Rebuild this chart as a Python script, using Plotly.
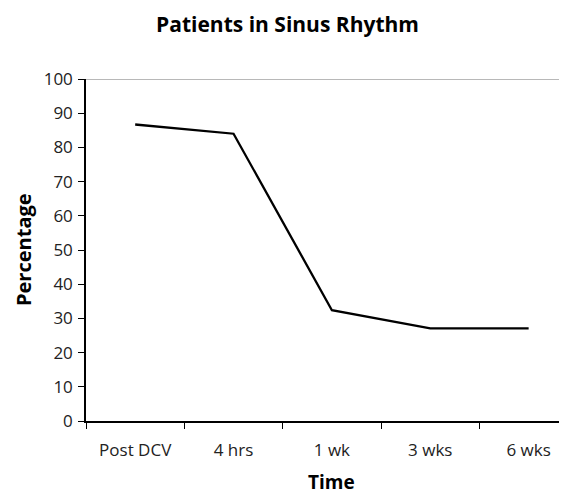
import plotly.graph_objects as go

categories = ["Post DCV", "4 hrs", "1 wk", "3 wks", "6 wks"]
percentages = [86.7, 84.0, 32.4, 27.1, 27.1]
y_ticks = [0, 10, 20, 30, 40, 50, 60, 70, 80, 90, 100]

FONT = "Open Sans, Noto Sans, sans-serif"
W, H = 559, 486  # page body adds an 8px margin

fig = go.Figure()
fig.add_trace(go.Scatter(
    x=categories, y=percentages, mode="lines",
    line=dict(color="black", width=2.3), showlegend=False, hoverinfo="skip"))

fig.update_layout(
    width=W, height=H,
    margin=dict(l=78, r=0, t=71, b=73, autoexpand=False),
    paper_bgcolor="white", plot_bgcolor="white",
    title=dict(text="<b>Patients in Sinus Rhythm</b>", x=0.5, xanchor="center",
               xref="container", y=1 - 17 / H, yanchor="middle",
               font=dict(family=FONT, size=21, color="black")),
    font=dict(family=FONT, size=17, color="#222"),
    xaxis=dict(
        type="category", range=[-0.5, 4.39], tickson="boundaries",
        ticks="outside", ticklen=6, tickcolor="black", tickwidth=1,
        showline=True, linecolor="black", linewidth=1.5,
        showgrid=False, zeroline=False, automargin=False,
        ticklabelstandoff=13,
        tickfont=dict(family=FONT, size=17, color="#222"),
    ),
    yaxis=dict(
        range=[0, 100], tickvals=y_ticks,
        ticks="outside", ticklen=6, tickcolor="black", tickwidth=1,
        showline=True, linecolor="black", linewidth=1.5,
        showgrid=False, zeroline=False, automargin=False,
        ticklabelstandoff=2,
        tickfont=dict(family=FONT, size=17, color="#222"),
    ),
)
fig.add_shape(type="line", xref="paper", yref="y", x0=0, x1=1, y0=100, y1=100,
              line=dict(color="#a0a0a0", width=1.5))
fig.add_annotation(text="<b>Time</b>", xref="x", yref="paper", x=2, y=0,
                   xanchor="center", yanchor="middle", yshift=-61, showarrow=False,
                   font=dict(family=FONT, size=19, color="black"))
fig.add_annotation(text="<b>Percentage</b>", xref="paper", yref="paper", x=0, y=0.5,
                   xanchor="center", yanchor="middle", xshift=-63, textangle=-90,
                   showarrow=False, font=dict(family=FONT, size=20, color="black"))

fig.write_html("out.html")
